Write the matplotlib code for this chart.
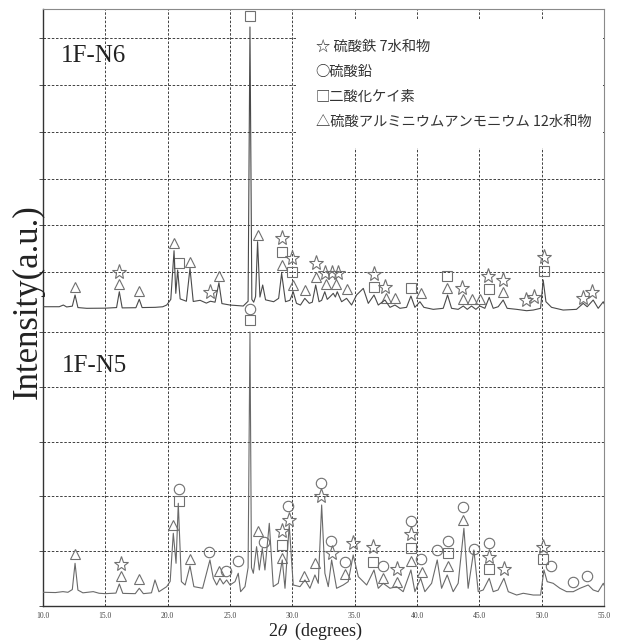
import matplotlib.pyplot as plt
from matplotlib.patches import Rectangle

plt.rcParams['font.family'] = ['Liberation Serif', 'DejaVu Serif']
plt.rcParams['mathtext.fontset'] = 'stix'

# ---- 1F-N6 (upper trace) ----
n6_x = [10.0, 11.3, 11.63, 11.9, 12.35, 12.57, 12.8, 13.5, 15.0, 15.9, 16.12, 16.35, 17.45, 17.72, 17.95,
        19.0, 19.6, 19.92, 20.25, 20.51, 20.65, 20.80, 21.0, 21.5, 21.79, 22.05, 22.6, 23.1, 23.43, 23.8,
        24.11, 24.35, 25.0, 26.06, 26.45, 26.6, 26.75, 26.9, 27.05, 27.21, 27.4, 27.62, 27.85, 28.5, 28.9,
        29.14, 29.45, 29.8, 30.07, 30.33, 30.65, 31.0, 31.36, 31.6, 31.87, 32.14, 32.35, 32.6, 32.8, 33.02,
        33.28, 33.45, 33.6, 33.95, 34.35, 34.75, 35.15, 35.69, 36.09, 36.55, 36.89, 37.43, 37.83, 38.23,
        38.63, 39.16, 39.51, 39.83, 40.23, 40.55, 41.3, 42.1, 42.45, 42.77, 43.3, 43.71, 44.03, 44.37,
        44.72, 45.04, 45.44, 45.79, 46.11, 46.51, 46.91, 47.23, 47.99, 48.79, 49.32, 49.91, 50.12, 50.34,
        50.79, 51.72, 52.79, 53.33, 53.65, 54.13, 54.53, 54.94, 55.0]
n6_y = [263, 263, 299, 258, 275, 513, 245, 229, 232, 245, 583, 238, 242, 421, 245,
        250, 262, 299, 420, 1460, 549, 1047, 430, 380, 1083, 375, 400, 340, 380, 360,
        776, 330, 299, 278, 380, 6240, 420, 360, 480, 1652, 470, 727, 410, 370, 442,
        976, 370, 400, 583, 335, 299, 442, 335, 360, 727, 370, 400, 583, 420, 477,
        549, 470, 583, 370, 442, 299, 513, 655, 335, 513, 299, 406, 250, 299,
        229, 250, 492, 250, 370, 250, 207, 229, 513, 229, 207, 278, 207, 278,
        207, 278, 229, 463, 229, 263, 406, 229, 207, 178, 192, 229, 833, 370,
        250, 192, 207, 335, 263, 406, 229, 370, 330]

# ---- 1F-N5 (lower trace) ----
n5_x = [10.0, 11.0, 11.6, 12.0, 12.35, 12.57, 12.8, 13.2, 14.03, 14.5, 15.0, 15.85, 16.12, 16.4, 17.4,
        17.72, 18.05, 18.7, 18.98, 19.3, 19.92, 20.2, 20.45, 20.67, 20.85, 21.1, 21.4, 21.79, 22.1, 22.8,
        23.39, 23.66, 23.93, 24.19, 24.46, 24.73, 25.0, 25.4, 25.66, 25.85, 26.2, 26.45, 26.6, 26.72, 26.87,
        27.13, 27.35, 27.59, 27.8, 28.15, 28.47, 28.87, 29.19, 29.41, 29.75, 30.07, 30.61, 31.01, 31.41,
        31.81, 32.08, 32.35, 32.61, 32.88, 33.15, 33.55, 34.08, 34.48, 34.88, 35.29, 35.96, 36.55, 36.89,
        37.29, 37.83, 38.36, 38.89, 39.51, 39.83, 40.29, 40.63, 41.17, 41.62, 41.97, 42.42, 42.9, 43.3,
        43.76, 44.1, 44.56, 44.91, 45.31, 45.79, 46.11, 46.5, 46.97, 47.32, 47.99, 48.52, 49.32, 49.91,
        50.18, 50.44, 50.92, 51.46, 52.0, 52.53, 53.07, 53.73, 54.13, 54.53, 54.94, 55.0]
n5_y = [250, 245, 262, 250, 300, 779, 290, 240, 262, 232, 225, 235, 402, 230, 225,
        323, 225, 240, 475, 260, 353, 450, 1327, 779, 1874, 444, 383, 730, 353, 323,
        840, 505, 383, 505, 402, 475, 383, 444, 597, 261, 353, 700, 5000, 700, 597,
        1082, 657, 1053, 657, 1509, 353, 414, 840, 323, 1478, 383, 353, 475, 323,
        566, 414, 1843, 597, 353, 840, 323, 383, 444, 931, 535, 383, 657, 323,
        414, 323, 353, 261, 657, 261, 505, 261, 414, 840, 323, 566, 261, 414,
        1418, 323, 1022, 261, 292, 505, 261, 292, 505, 261, 200, 232, 200, 200,
        657, 444, 414, 323, 261, 261, 323, 383, 292, 261, 414, 380]

# ---- phase marks, 1F-N6 ----
n6_star_x = [16.12, 23.43, 29.14, 29.95, 31.87, 32.61, 33.15, 33.68, 36.55, 37.43, 43.62, 45.73, 46.87,
             48.78, 49.39, 50.16, 53.3, 54.05]
n6_star_y = [1011, 583, 1725, 1310, 1203, 989, 989, 989, 962, 690, 656, 919, 833,
             406, 464, 1319, 455, 583]
n6_sq_x = [20.93, 26.6, 29.14, 30.0, 36.55, 39.51, 42.42, 45.79, 50.16]
n6_sq_y = [1203, 6475, 1425, 998, 690, 656, 919, 641, 1026]
n6_tri_x = [12.57, 16.12, 17.72, 20.51, 21.82, 24.11, 27.21, 29.14, 30.07, 30.98, 31.87, 32.69, 33.5,
            34.35, 37.5, 38.23, 40.3, 42.42, 43.65, 44.37, 45.09, 46.9]
n6_tri_y = [690, 748, 598, 1618, 1212, 919, 1795, 1154, 727, 620, 891, 742, 742,
            641, 442, 455, 549, 669, 421, 421, 421, 583]

# ---- phase marks, 1F-N5 ----
n5_star_x = [16.23, 29.14, 29.75, 32.3, 33.15, 34.83, 36.5, 38.37, 39.51, 45.79, 46.97, 50.1]
n5_star_y = [767, 1369, 1570, 2008, 962, 1144, 1071, 670, 1314, 900, 670, 1071]
n5_circ_x = [20.94, 23.35, 24.7, 25.64, 26.6, 27.69, 29.67, 32.3, 33.1, 34.21, 37.3, 39.51, 40.29,
             41.62, 42.45, 43.7, 44.56, 45.79, 50.77, 52.5, 53.65]
n5_circ_y = [2130, 991, 639, 827, 5420, 1173, 1825, 2239, 1192, 808, 730, 1551, 852,
             1022, 1192, 1812, 1040, 1155, 730, 433, 553]
n5_sq_x = [20.94, 26.6, 29.14, 36.5, 39.51, 42.45, 45.79, 50.1]
n5_sq_y = [1916, 5210, 1113, 808, 1053, 962, 670, 852]
n5_tri_x = [12.6, 16.23, 17.7, 20.43, 21.8, 24.08, 27.23, 29.14, 30.9, 31.84, 34.21, 37.3, 38.37,
            39.51, 40.37, 42.45, 43.7]
n5_tri_y = [944, 553, 487, 1478, 863, 644, 1374, 881, 548, 779, 579, 506, 433,
            821, 626, 730, 1570]

legend_lines = ['☆ 硫酸鉄 7水和物', '○硫酸鉛', '□二酸化ケイ素', '△硫酸アルミニウムアンモニウム 12水和物']
x_ticks = [10, 15, 20, 25, 30, 35, 40, 45, 50, 55]

fig = plt.figure(figsize=(6.18, 6.42), dpi=100)
ax2 = fig.add_axes([0.0696, 0.0561, 0.9078, 0.930])   # lower sample, full frame
ax1 = fig.add_axes([0.0696, 0.514, 0.9078, 0.472])    # upper sample, overlaid
ax1.set_facecolor('none')

grid_kw = dict(color='#222222', linestyle=(0, (3, 2)), linewidth=0.6)
mk = dict(linestyle='none', markerfacecolor='none', markeredgecolor='#707070', markeredgewidth=0.8)

# lower panel
ax2.plot(n5_x, n5_y, color='#6a6a6a', linewidth=0.8, zorder=3)
ax2.plot(n5_star_x, n5_star_y, marker='*', markersize=11, **mk)
ax2.plot(n5_circ_x, n5_circ_y, marker='o', markersize=7.5, **mk)
ax2.plot(n5_sq_x, n5_sq_y, marker='s', markersize=7, **mk)
ax2.plot(n5_tri_x, n5_tri_y, marker='^', markersize=7.5, **mk)
ax2.set_xlim(10, 55)
ax2.set_ylim(0, 10895)
ax2.set_xticks(x_ticks)
ax2.set_xticklabels(['%.1f' % t for t in x_ticks])
ax2.set_yticks([0, 1000, 2000, 3000, 4000, 5000])
ax2.set_yticklabels([])
ax2.tick_params(axis='x', labelsize=5.5, labelcolor='#444444', length=0, pad=4)
ax2.tick_params(axis='y', direction='out', length=3, width=0.6, color='#333333')
ax2.grid(True, **grid_kw)
for s in ['top', 'right']:
    ax2.spines[s].set_color('#8a8a8a')
for s in ['left', 'bottom']:
    ax2.spines[s].set_color('#333333')
    ax2.spines[s].set_linewidth(1.0)
ax2.text(0.034, 0.392, '1F-N5', transform=ax2.transAxes, fontsize=18, color='#222222', va='baseline')
fig.text(0.51, 0.0, r'2$\theta$  (degrees)', fontsize=13, color='#222222', ha='center', va='bottom')

# upper panel
ax1.plot(n6_x, n6_y, color='#4a4a4a', linewidth=0.8, zorder=3)
ax1.plot(n6_star_x, n6_star_y, marker='*', markersize=11, **mk)
ax1.plot(n6_sq_x, n6_sq_y, marker='s', markersize=7, **mk)
ax1.plot(n6_tri_x, n6_tri_y, marker='^', markersize=7.5, **mk)
ax1.set_xlim(10, 55)
ax1.set_ylim(150, 6625)
ax1.set_xticks([])
ax1.set_yticks([1000, 2000, 3000, 4000, 5000, 6000])
ax1.set_yticklabels([])
ax1.tick_params(axis='y', direction='out', length=3, width=0.6, color='#333333')
ax1.yaxis.grid(True, **grid_kw)
for s in ax1.spines.values():
    s.set_visible(False)
ax1.text(0.032, 0.825, '1F-N6', transform=ax1.transAxes, fontsize=18, color='#222222', va='baseline')

ax1.add_patch(Rectangle((0.451, 0.541), 0.548, 0.423, transform=ax1.transAxes,
                        facecolor='white', edgecolor='none', zorder=4))
for i, line in enumerate(legend_lines):
    ax1.text(0.486, 0.875 - i * 0.0825, line, transform=ax1.transAxes, va='center', ha='left',
             fontsize=10.3, color='#333333', family=['Noto Sans CJK JP', 'DejaVu Sans'], zorder=5)

fig.text(0.045, 0.53, 'Intensity(a.u.)', rotation=90, fontsize=25, color='#222222',
         ha='center', va='center')

fig.savefig('out.png', dpi=100)
